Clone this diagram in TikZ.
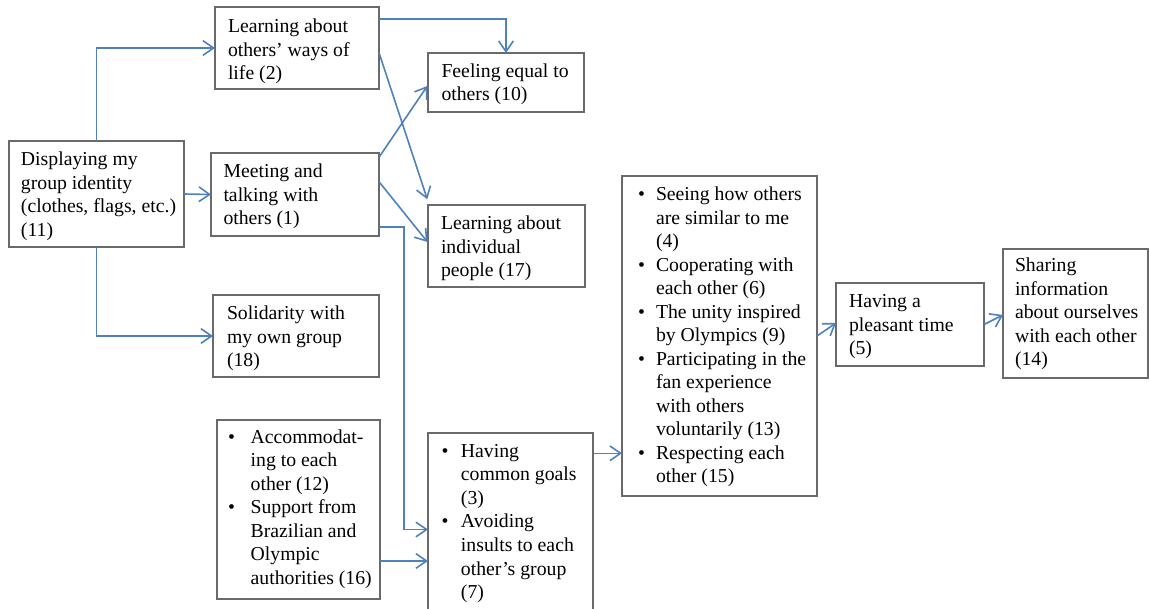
\documentclass[tikz,border=0pt]{standalone}
\usepackage{fontspec}
\setmainfont{Liberation Serif}
\usetikzlibrary{arrows.meta,calc,fit}
\definecolor{arrowblue}{HTML}{4F81BD}
\definecolor{boxgray}{HTML}{6A6A6A}
\begin{document}
\begin{tikzpicture}[x=0.75pt,y=-0.75pt,
  box/.style={draw=boxgray, line width=1pt, inner sep=0pt, outer sep=0pt, rectangle},
  txt/.style={inner sep=0pt, outer sep=0pt, anchor=base west, font=\fontsize{14.8}{17.625}\selectfont},
  link/.style={draw=arrowblue, line width=1.2pt, -{Straight Barb[length=8pt,width=11pt]}}]
\clip (0,0) rectangle (1149,609);
% boxes
\node[box, fit={(9,141) (184,247)}] (b11) {};
\node[box, fit={(215,7) (379,89)}] (b2) {};
\node[box, fit={(211,153) (379,236)}] (b1) {};
\node[box, fit={(213,295) (379,377)}] (b18) {};
\node[box, fit={(217,420) (380,599)}] (b12) {};
\node[box, fit={(428,53) (584,112)}] (b10) {};
\node[box, fit={(428,205) (585,287)}] (b17) {};
\node[box, fit={(428,433) (593,625)}] (b3) {};
\node[box, fit={(622,176) (817,496)}] (b4) {};
\node[box, fit={(836,283) (984,366)}] (b5) {};
\node[box, fit={(1003,249) (1148,378)}] (b14) {};
% texts
\node[txt] (t11) at (21,165.7) {\begin{tabular}[t]{@{}l@{}}Displaying my\\group identity\\(clothes, flags, etc.)\\(11)\end{tabular}};
\node[txt] (t2) at (228,32.7) {\begin{tabular}[t]{@{}l@{}}Learning about\\others’ ways of\\life (2)\end{tabular}};
\node[txt] (t1) at (223.5,177.7) {\begin{tabular}[t]{@{}l@{}}Meeting and\\talking with\\others (1)\end{tabular}};
\node[txt] (t18) at (227,319.7) {\begin{tabular}[t]{@{}l@{}}Solidarity with\\my own group\\(18)\end{tabular}};
\node[txt] (t12) at (228,443) {\begin{tabular}[t]{@{}p{17pt}@{}l@{}}\textbullet&Accommodat-\\&ing to each\\&other (12)\\\textbullet&Support from\\&Brazilian and\\&Olympic\\&authorities (16)\end{tabular}};
\node[txt] (t10) at (441.5,77.5) {\begin{tabular}[t]{@{}l@{}}Feeling equal to\\others (10)\end{tabular}};
\node[txt] (t17) at (441,230) {\begin{tabular}[t]{@{}l@{}}Learning about\\individual\\people (17)\end{tabular}};
\node[txt] (t3) at (441.5,457.5) {\begin{tabular}[t]{@{}p{14.6pt}@{}l@{}}\textbullet&Having\\&common goals\\&(3)\\\textbullet&Avoiding\\&insults to each\\&other’s group\\&(7)\end{tabular}};
\node[txt] (t4) at (638,200.7) {\begin{tabular}[t]{@{}p{13.5pt}@{}l@{}}\textbullet&Seeing how others\\&are similar to me\\&(4)\\\textbullet&Cooperating with\\&each other (6)\\\textbullet&The unity inspired\\&by Olympics (9)\\\textbullet&Participating in the\\&fan experience\\&with others\\&voluntarily (13)\\\textbullet&Respecting each\\&other (15)\end{tabular}};
\node[txt] (t5) at (849,308) {\begin{tabular}[t]{@{}l@{}}Having a\\pleasant time\\(5)\end{tabular}};
\node[txt] (t14) at (1015,272) {\begin{tabular}[t]{@{}l@{}}Sharing\\information\\about ourselves\\with each other\\(14)\end{tabular}};
% connectors
\draw[link] (b11.north) |- (b2.west);
\draw[link] (b11.east) -- (b1.west);
\draw[link] (b11.south) |- (b18.west);
\draw[link] ($(b2.north east)+(0,12)$) -| (b10.north);
\draw[link] ($(b2.east)+(0,4.7)$) -- ($(b17.north west)+(-0.7,-5.7)$);
\draw[link] ($(b1.north east)+(0,4.3)$) -- ($(b10.west)+(-0.7,3.5)$);
\draw[link] ($(b1.east)+(0,-12.8)$) -- ($(b17.west)+(-0.5,-4)$);
\draw[link] ($(b1.south east)+(0,-9)$) -| ($(b3.north west)+(-24,96.5)$) -- ($(b3.north west)+(0,96.5)$);
\draw[link] ($(b12.north east)+(0,141)$) -- ($(b3.north west)+(0,128)$);
\draw[link] ($(b3.north east)+(0,20.3)$) -- ($(b4.north west)+(0,277.3)$);
\draw[link] (b4.east) -- ($(b5.west)+(0,-1.5)$);
\draw[link] (b5.east) -- ($(b14.west)+(0,1.5)$);
\end{tikzpicture}
\end{document}
